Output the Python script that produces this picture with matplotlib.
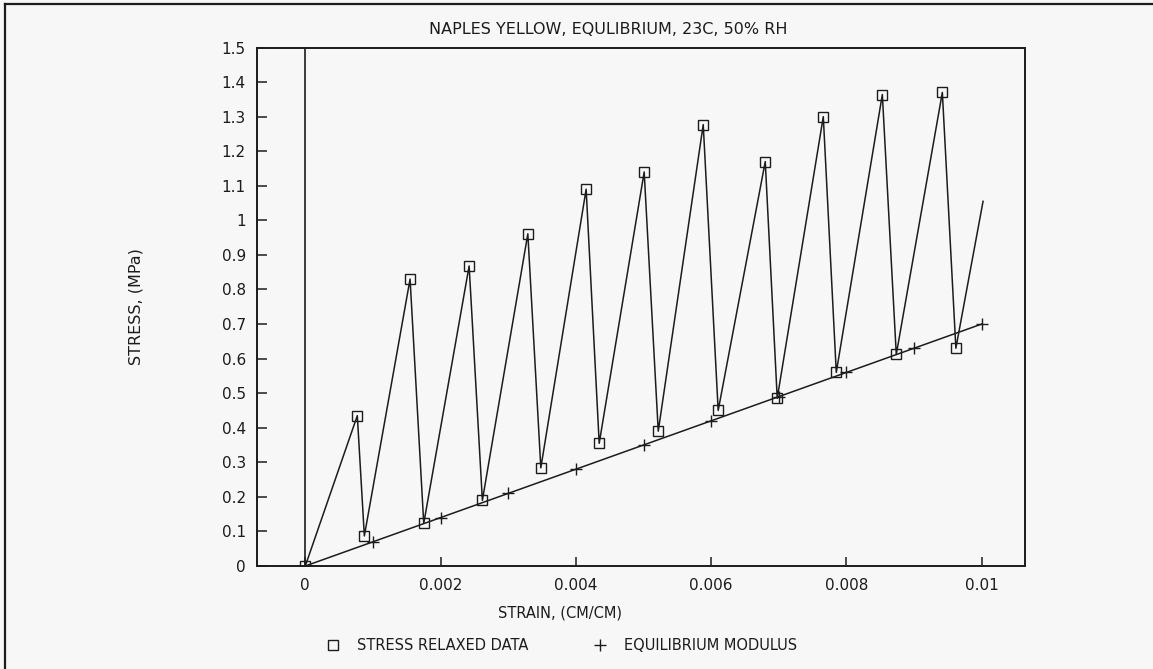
import matplotlib
matplotlib.use("Agg")
import matplotlib.pyplot as plt
from matplotlib.lines import Line2D

plt.rcParams['font.family'] = ['DejaVu Sans']

# stress relaxation run: loading peaks and relaxed troughs, ending on a final loading ramp
strain_relaxed = [0.0,
                  0.000769, 0.000873, 0.001549, 0.001751, 0.002422, 0.002618,
                  0.00329, 0.003482, 0.004152, 0.004345, 0.00501, 0.005218,
                  0.005883, 0.006104, 0.0068, 0.006977, 0.007658, 0.00785,
                  0.008531, 0.008737, 0.009418, 0.009618,
                  0.01002]
stress_relaxed = [0.0,
                  0.435, 0.087, 0.83, 0.123, 0.868, 0.19,
                  0.961, 0.284, 1.09, 0.355, 1.14, 0.39,
                  1.277, 0.45, 1.17, 0.485, 1.30, 0.56,
                  1.364, 0.612, 1.37, 0.63,
                  1.055]

# equilibrium modulus line
strain_eq = [0.0, 0.001, 0.002, 0.003, 0.004, 0.005, 0.006, 0.007, 0.008, 0.009, 0.01]
stress_eq = [0.0, 0.07, 0.14, 0.21, 0.28, 0.35, 0.42, 0.49, 0.56, 0.63, 0.70]

x_ticks = [0, 0.002, 0.004, 0.006, 0.008, 0.01]
x_labels = ['0', '0.002', '0.004', '0.006', '0.008', '0.01']
y_ticks = [0, 0.1, 0.2, 0.3, 0.4, 0.5, 0.6, 0.7, 0.8, 0.9, 1.0, 1.1, 1.2, 1.3, 1.4, 1.5]
y_labels = ['0', '0.1', '0.2', '0.3', '0.4', '0.5', '0.6', '0.7', '0.8', '0.9',
            '1', '1.1', '1.2', '1.3', '1.4', '1.5']

ink = '#1c1c1c'
paper = '#f7f7f7'

W, H = 1153, 669
fig = plt.figure(figsize=(W / 100, H / 100), dpi=100, facecolor=paper)
ax = fig.add_axes([257 / W, 1 - 566 / H, (1025 - 257) / W, (566 - 47.5) / H])
ax.set_facecolor(paper)

ax.plot(strain_relaxed, stress_relaxed, color=ink, lw=1.1, marker='s',
        markersize=7.5, mfc='none', mec=ink, mew=1.0,
        markevery=list(range(len(strain_relaxed) - 1)))
ax.plot(strain_eq, stress_eq, color=ink, lw=1.1, marker='+',
        markersize=9, mew=1.0)

ax.axvline(0, color=ink, lw=1.2)

ax.set_xlim(-0.000714, 0.01064)
ax.set_ylim(0, 1.5)
ax.set_xticks(x_ticks)
ax.set_xticklabels(x_labels)
ax.set_yticks(y_ticks)
ax.set_yticklabels(y_labels)
ax.tick_params(direction='in', colors=ink, labelsize=11, width=1.1)
ax.tick_params(axis='y', length=7, pad=8)
ax.tick_params(axis='x', length=6.5, pad=9)
for s in ax.spines.values():
    s.set_color(ink)
    s.set_linewidth(1.4)

fig.text(608 / W, 1 - 30 / H, 'NAPLES YELLOW, EQULIBRIUM, 23C, 50% RH',
         ha='center', va='center', fontsize=11.5, color=ink)
fig.text(136 / W, 1 - 307 / H, 'STRESS, (MPa)', rotation=90,
         ha='center', va='center', fontsize=11.5, color=ink)
fig.text(560 / W, 1 - 613 / H, 'STRAIN, (CM/CM)',
         ha='center', va='center', fontsize=10.5, color=ink)

# legend row under the axis label
fig.add_artist(Line2D([333 / W], [1 - 645 / H], marker='s', markersize=7,
                      mfc='none', mec=ink, mew=1.0, transform=fig.transFigure))
fig.text(357 / W, 1 - 645 / H, 'STRESS RELAXED DATA', ha='left', va='center',
         fontsize=10.5, color=ink)
fig.add_artist(Line2D([600 / W], [1 - 645 / H], marker='+', markersize=8,
                      mec=ink, mew=1.0, transform=fig.transFigure))
fig.text(624 / W, 1 - 645 / H, 'EQUILIBRIUM MODULUS', ha='left', va='center',
         fontsize=10.5, color=ink)

# page frame, top and left edges
fig.add_artist(Line2D([5 / W, 1.0], [1 - 4 / H, 1 - 4 / H], color=ink, lw=1.6,
                      transform=fig.transFigure))
fig.add_artist(Line2D([5 / W, 5 / W], [0.0, 1 - 4 / H], color=ink, lw=1.6,
                      transform=fig.transFigure))

fig.savefig('out.png', dpi=100, facecolor=paper)
